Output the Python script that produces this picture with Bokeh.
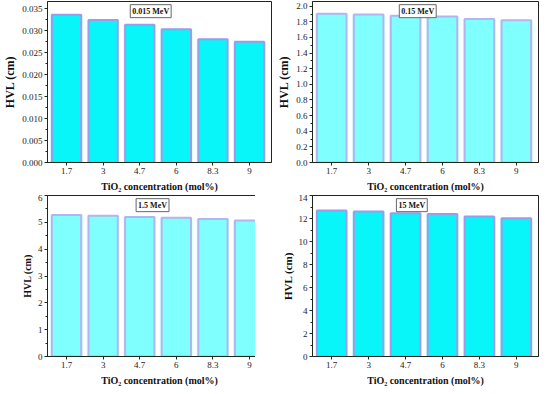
from bokeh.plotting import figure
from bokeh.models import Range1d, FixedTicker, BasicTicker, Label, ColumnDataSource, NumeralTickFormatter
from bokeh.layouts import gridplot
from bokeh.embed import file_html
from bokeh.resources import INLINE

categories = ["1.7", "3", "4.7", "6", "8.3", "9"]
hvl_0015 = [0.0337, 0.0325, 0.0314, 0.0304, 0.0281, 0.0275]
hvl_015 = [1.903, 1.895, 1.877, 1.869, 1.837, 1.820]
hvl_15 = [5.27, 5.25, 5.20, 5.17, 5.12, 5.07]
hvl_150 = [12.69, 12.60, 12.46, 12.40, 12.17, 12.02]
energies = ["0.015 MeV", "0.15 MeV", "1.5 MeV", "15 MeV"]

FONT = "'Liberation Serif', 'DejaVu Serif', serif"
XTITLE = "TiO\u2082 concentration (mol%)"


def panel(vals, label, ymax, fmt_digits, fw, fh, fill, line, ylab_size, mbl, mbr, lx):
    p = figure(frame_width=fw, frame_height=fh, output_backend="svg", toolbar_location=None,
               x_range=Range1d(-0.52, 5.6), y_range=Range1d(0, ymax),
               min_border_left=mbl, min_border_right=mbr,
               min_border_top=1, min_border_bottom=10, title=None)
    xs = list(range(len(categories)))
    src = ColumnDataSource(dict(x=xs, top=vals))
    p.vbar(x="x", top="top", width=0.9, source=src, fill_color="#D8FFFF",
           line_color=None, bottom=0)
    p.vbar(x="x", top="top", width=0.8, source=src, fill_color=fill,
           line_color=line, line_width=2)
    p.xgrid.visible = False
    p.ygrid.visible = False
    p.outline_line_color = "#222222"
    p.outline_line_width = 1
    p.xaxis.ticker = FixedTicker(ticks=xs)
    p.xaxis.major_label_overrides = {i: c for i, c in enumerate(categories)}
    p.yaxis.ticker = BasicTicker(desired_num_ticks=8, num_minor_ticks=2,
                                 mantissas=[1, 2, 5])
    p.yaxis.formatter = NumeralTickFormatter(format="0." + "0" * fmt_digits if fmt_digits else "0")
    for ax in (p.xaxis[0], p.yaxis[0]):
        ax.axis_line_color = "#1a2a1a"
        ax.major_tick_line_color = "#1a2a1a"
        ax.minor_tick_line_color = "#1a2a1a"
        ax.major_tick_out = 3
        ax.major_tick_in = 0
        ax.minor_tick_out = 2
        ax.minor_tick_in = 0
        ax.major_label_text_font = FONT
        ax.major_label_text_font_size = "9px"
        ax.major_label_text_color = "#222222"
        ax.major_label_standoff = 2
        ax.axis_label_text_font = FONT
        ax.axis_label_text_font_style = "bold"
        ax.axis_label_text_color = "#111111"
    p.xaxis.minor_tick_line_color = None
    p.xaxis.axis_label = XTITLE
    p.xaxis.axis_label_text_font_size = "10px"
    p.xaxis.axis_label_standoff = 4
    p.yaxis.axis_label = "HVL (cm)"
    p.yaxis.axis_label_text_font_size = ylab_size
    p.yaxis.axis_label_standoff = 2
    shadow = Label(x=lx, y=ymax * 0.94, text=label, text_baseline="middle",
                   text_font=FONT, text_font_style="bold", text_font_size="8px",
                   text_align="center", text_alpha=0.0,
                   x_offset=1.5, y_offset=-1.5,
                   background_fill_color="#777777", padding=2)
    lab = Label(x=lx, y=ymax * 0.94, text=label, text_baseline="middle",
                text_font=FONT, text_font_style="bold", text_font_size="8px",
                text_align="center", text_color="#111111",
                border_line_color="#666666", border_line_width=1,
                background_fill_color="white", padding=2)
    p.add_layout(shadow)
    p.add_layout(lab)
    return p


p1 = panel(hvl_0015, energies[0], 0.0367, 3, 224, 161, "#08F6FA", "#9C9CE8", "12px", 30, 1, 2.3)
p2 = panel(hvl_015, energies[1], 2.06, 1, 226, 161, "#80FFFF", "#B4B4EE", "12px", 40, 2, 2.33)
p3 = panel(hvl_15, energies[2], 6.0, 0, 224, 161, "#80FFFF", "#B4B4EE", "10px", 30, 1, 2.35)
p4 = panel(hvl_150, energies[3], 14.0, 0, 226, 161, "#08F6FA", "#9C9CE8", "11px", 40, 2, 2.17)

grid = gridplot([[p1, p2], [p3, p4]], toolbar_location=None)
open("out.html", "w").write(file_html(grid, INLINE))
